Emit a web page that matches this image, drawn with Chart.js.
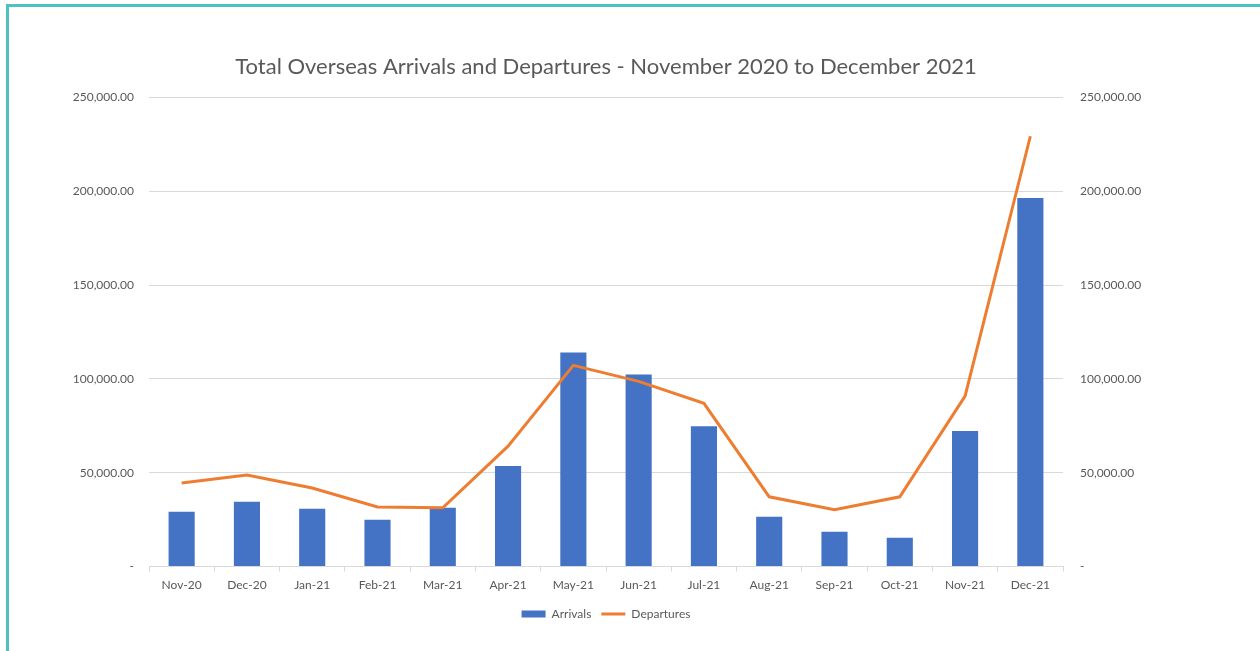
<!DOCTYPE html>
<html lang="en">
<head>
  <meta charset="UTF-8">
  <title>Total Overseas Arrivals and Departures</title>
  <script src="https://cdn.jsdelivr.net/npm/chart.js"></script>
  <style>
    body {
      margin: 0;
      background: #ffffff;
      overflow: hidden;
    }
    .frame {
      position: absolute;
      left: 6px;
      top: 4px;
      width: 1300px;
      height: 644px;
      border-left: 3px solid #4fc1c1;
      border-top: 3px solid #4fc1c1;
      border-bottom: 1px solid #d6f0f0;
    }
    .chartBox {
      position: absolute;
      left: 0;
      top: 0;
      width: 1212px;
      height: 651px;
    }
  </style>
</head>
<body>
  <div class="frame"></div>
  <div class="chartBox">
    <canvas id="tripChart"></canvas>
  </div>

  <script>
    const months = ['Nov-20', 'Dec-20', 'Jan-21', 'Feb-21', 'Mar-21', 'Apr-21', 'May-21',
                    'Jun-21', 'Jul-21', 'Aug-21', 'Sep-21', 'Oct-21', 'Nov-21', 'Dec-21'];
    const arrivals = [29200, 34500, 30800, 25000, 31300, 53600, 114100,
                      102400, 74800, 26500, 18600, 15400, 72200, 196400];
    const departures = [44600, 48800, 41900, 31800, 31300, 64200, 107200,
                        98700, 87000, 37200, 30300, 37200, 90800, 229300];

    const grey = '#595959';
    const tickFont = { family: 'Lato', size: 12 };

    // Excel accounting style: zero shows as a dash
    function money(v) {
      if (v === 0) return '-';
      return v.toLocaleString('en-US', { minimumFractionDigits: 2, maximumFractionDigits: 2 });
    }

    const ctx = document.getElementById('tripChart').getContext('2d');
    const tripChart = new Chart(ctx, {
      data: {
        labels: months,
        datasets: [
          {
            type: 'line',
            label: 'Departures',
            data: departures,
            borderColor: '#ed7d31',
            backgroundColor: '#ed7d31',
            borderWidth: 3,
            pointRadius: 0,
            tension: 0,
            yAxisID: 'y2',
            order: 0
          },
          {
            type: 'bar',
            label: 'Arrivals',
            data: arrivals,
            backgroundColor: '#4472c4',
            borderWidth: 0,
            barPercentage: 0.4,
            categoryPercentage: 1,
            yAxisID: 'y',
            order: 1
          }
        ]
      },
      options: {
        responsive: true,
        maintainAspectRatio: false,
        animation: false,
        layout: { padding: { left: 0, right: 0, top: 0, bottom: 21 } },
        plugins: {
          title: {
            display: true,
            text: 'Total Overseas Arrivals and Departures - November 2020 to December 2021',
            color: grey,
            font: { family: 'Lato', size: 22, weight: 'normal' },
            padding: { top: 54, bottom: 17 }
          },
          legend: {
            position: 'bottom',
            reverse: true,
            labels: {
              color: grey,
              font: tickFont,
              usePointStyle: true,
              pointStyleWidth: 24,
              boxHeight: 7,
              padding: 10,
              generateLabels: (chart) => {
                const items = Chart.defaults.plugins.legend.labels.generateLabels(chart);
                items.forEach(it => {
                  it.pointStyle = it.text === 'Departures' ? 'line' : 'rect';
                });
                return items;
              }
            }
          },
          tooltip: { enabled: false }
        },
        scales: {
          x: {
            offset: true,
            grid: {
              offset: true,
              drawOnChartArea: false,
              drawTicks: true,
              tickLength: 5,
              color: '#d9d9d9'
            },
            border: { color: '#d9d9d9' },
            ticks: { color: grey, font: tickFont, padding: 6, maxRotation: 0 }
          },
          y: {
            position: 'left',
            min: 0,
            max: 250000,
            ticks: {
              stepSize: 50000,
              color: grey,
              font: tickFont,
              padding: 15,
              callback: (v) => money(v)
            },
            grid: { color: '#d9d9d9', drawTicks: false },
            border: { display: false },
            afterFit: (scale) => { scale.width = 149; }
          },
          y2: {
            position: 'right',
            min: 0,
            max: 250000,
            ticks: {
              stepSize: 50000,
              color: grey,
              font: tickFont,
              padding: 17,
              callback: (v) => money(v)
            },
            grid: { drawOnChartArea: false, drawTicks: false },
            border: { display: false },
            afterFit: (scale) => { scale.width = 149; }
          }
        }
      }
    });
  </script>
</body>
</html>
